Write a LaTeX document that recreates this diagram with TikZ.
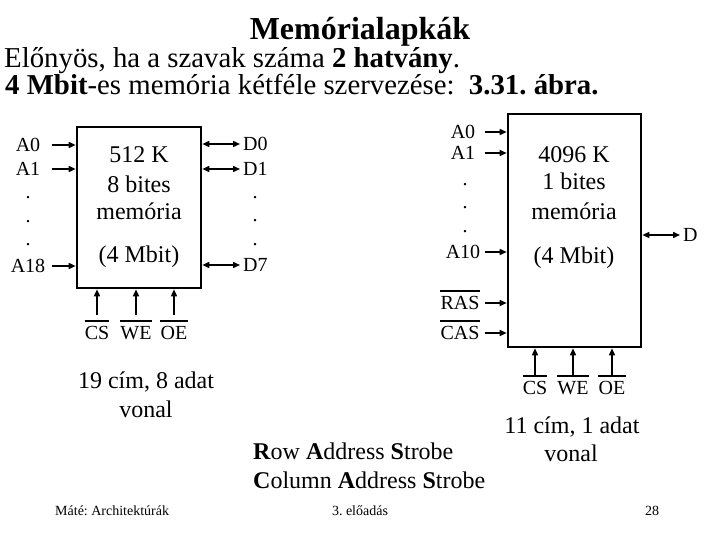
\documentclass[tikz,border=0pt]{standalone}
\usepackage{fontspec}
\setmainfont{Liberation Serif}
\usetikzlibrary{arrows.meta,positioning,calc}
\frenchspacing
\newcommand{\titlefont}{\fontsize{32}{38}\selectfont\bfseries}
\newcommand{\bodyfont}{\fontsize{28.8}{33}\selectfont}
\newcommand{\blkfont}{\fontsize{24}{29}\selectfont}
\newcommand{\pinfont}{\fontsize{20}{24}\selectfont}
\newcommand{\footfont}{\fontsize{14}{17}\selectfont}
\tikzset{
  memblk/.style={draw, line width=2.6pt, inner sep=0pt},
  blktxt/.style={anchor=base, font=\blkfont},
  pin/.style={inner sep=0pt, font=\pinfont},
  sigarr/.style={-{Triangle[length=7pt,width=6pt]}, line width=1.5pt},
  busarr/.style={{Triangle[length=7pt,width=6pt]}-{Triangle[length=7pt,width=6pt]}, line width=1.5pt},
  negbar/.style={line width=2.6pt},
  note/.style={anchor=base, font=\blkfont},
  foot/.style={anchor=base, font=\footfont},
}
\newcommand{\negsig}[1]{\draw[negbar] ([yshift=5pt]#1.north west) -- ([yshift=5pt]#1.north east);}

\begin{document}
\begin{tikzpicture}[x=1pt, y=-1pt]
  \useasboundingbox (0,0) rectangle (720,540);
  % heading
  \node[anchor=base, font=\titlefont] (title) at (360,40) {Memórialapkák};
  \node[anchor=base west, inner sep=0pt, font=\bodyfont] (line1) at (4,68)
       {Előnyös, ha a szavak száma \textbf{2 hatvány}.};
  \node[anchor=base west, inner sep=0pt, font=\bodyfont] (line2) at (5,95)
       {\textbf{4 Mbit}-es memória kétféle szervezése:\ \ \textbf{3.31. ábra.}};
  % 512 K x 8
  \begin{scope}
    \node[memblk, minimum width=124pt, minimum height=161pt] (mem1) at (139,207.5) {};
    \node[blktxt] (m1a) at (139,163) {512 K};
    \node[blktxt] (m1b) at (139,193) {8 bites};
    \node[blktxt] (m1c) at (139,220) {memória};
    \node[blktxt] (m1d) at (139,262) {(4 Mbit)};
    \node[pin] (la0) at (28,145) {A0};
    \node[pin] (la1) at (28,169) {A1};
    \node[pin] (la18) at (28,266) {A18};
    \foreach \yy in {198,222,245} \node[pin] (ldot\yy) at (28,\yy) {.};
    \node[pin, anchor=west] (ld0) at (243,144) {D0};
    \node[pin, anchor=west] (ld1) at (243,169) {D1};
    \node[pin, anchor=west] (ld7) at (243,265) {D7};
    \foreach \yy in {198,221,245} \node[pin] (ddot\yy) at (255,\yy) {.};
    \foreach \p in {la0,la1,la18}
      \draw[sigarr] ($(mem1.west |- \p)+(-24,0)$) -- (mem1.west |- \p);
    \foreach \p in {ld0,ld1,ld7}
      \draw[busarr] (mem1.east |- \p) -- ($(\p.west)+(-3,0)$);
    \node[pin] (lcs) at (97,333) {CS};
    \node[pin] (lwe) at (136,333) {WE};
    \node[pin] (loe) at (174,333) {OE};
    \foreach \p in {lcs,lwe,loe}{
      \negsig{\p}
      \draw[sigarr] ([yshift=11pt]\p.north) -- (\p |- mem1.south);
    }
    \node[note] (n1a) at (146,388) {19 cím, 8 adat};
    \node[note] (n1b) at (146,417) {vonal};
  \end{scope}
  % 4096 K x 1
  \begin{scope}
    \node[memblk, minimum width=133pt, minimum height=233pt] (mem2) at (574.5,230.5) {};
    \node[blktxt] (m2a) at (574,163) {4096 K};
    \node[blktxt] (m2b) at (574,190) {1 bites};
    \node[blktxt] (m2c) at (574,219) {memória};
    \node[blktxt] (m2d) at (574,263) {(4 Mbit)};
    \node[pin] (ra0) at (463,132) {A0};
    \node[pin] (ra1) at (463,153) {A1};
    \node[pin] (ra10) at (463,252) {A10};
    \foreach \yy in {185,208,232} \node[pin] (rdot\yy) at (465,\yy) {.};
    \node[pin] (rras) at (460,303) {RAS};
    \node[pin] (rcas) at (460,333) {CAS};
    \negsig{rras}\negsig{rcas}
    \foreach \p in {ra0,ra1,ra10,rras,rcas}
      \draw[sigarr] ($(mem2.west |- \p)+(-22,0)$) -- (mem2.west |- \p);
    \node[pin, anchor=west] (rd) at (683,235) {D};
    \draw[busarr] (mem2.east |- rd) -- ($(rd.west)+(-3,0)$);
    \node[pin] (rcs) at (535,388) {CS};
    \node[pin] (rwe) at (573,388) {WE};
    \node[pin] (roe) at (612,388) {OE};
    \foreach \p in {rcs,rwe,roe}{
      \negsig{\p}
      \draw[sigarr] ([yshift=5pt]\p.north) -- (\p |- mem2.south);
    }
    \node[note] (n2a) at (572,433) {11 cím, 1 adat};
    \node[note] (n2b) at (571,461) {vonal};
  \end{scope}
  % RAS / CAS
  \node[note, anchor=base west, inner sep=0pt] (rasx) at (253,459)
       {\textbf{R}ow \textbf{A}ddress \textbf{S}trobe};
  \node[note, anchor=base west, inner sep=0pt] (casx) at (253,488)
       {\textbf{C}olumn \textbf{A}ddress \textbf{S}trobe};
  % footer
  \node[foot, anchor=base west, inner sep=0pt] (fleft) at (55,515) {Máté: Architektúrák};
  \node[foot] (fmid) at (360,515) {3. előadás};
  \node[foot] (fright) at (652,515) {28};
\end{tikzpicture}
\end{document}
